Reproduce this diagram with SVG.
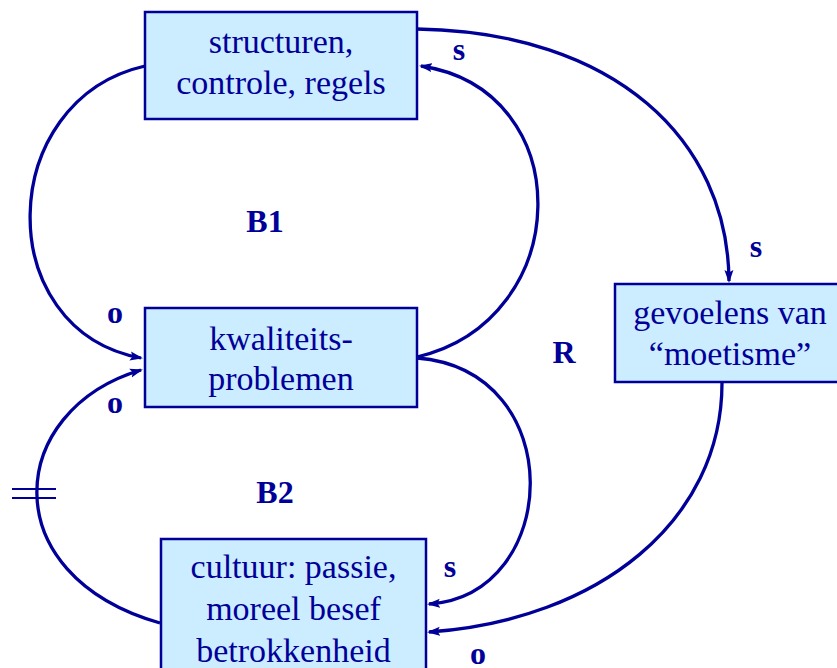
<svg xmlns="http://www.w3.org/2000/svg" width="837" height="668" viewBox="0 0 837 668">
<style>
.box{fill:#CCECFF;stroke:#000099;stroke-width:2.5}
.nt{font-family:"Liberation Serif","Times New Roman",serif;font-size:34px;fill:#000099;text-anchor:middle}
.lb{font-family:"Liberation Serif","Times New Roman",serif;font-size:32px;font-weight:bold;fill:#000099;text-anchor:middle}
.c{fill:none;stroke:#000099;stroke-width:3.3}
.d{fill:none;stroke:#000099;stroke-width:2}
</style>
<defs>
<marker id="ah" markerUnits="userSpaceOnUse" markerWidth="14" markerHeight="10" refX="11" refY="5" orient="auto">
<path d="M0,0.5 L13,5 L0,9.5 L2.5,5 Z" fill="#000099"/>
</marker>
</defs>
<rect width="837" height="668" fill="#ffffff"/>
<g id="connectors">
<path class="c" d="M145,66 C-5,100 -10,330 141,358" marker-end="url(#ah)"/>
<path class="c" d="M417,357 C575,320 580,90 421,66" marker-end="url(#ah)"/>
<path class="c" d="M417,29 C615,32 728,140 729,281" marker-end="url(#ah)"/>
<path class="c" d="M722,383 C722,520 600,620 429,632" marker-end="url(#ah)"/>
<path class="c" d="M417,358 C570,370 562,595 429,604" marker-end="url(#ah)"/>
<path class="c" d="M160,623 C-8,575 6,410 141,370" marker-end="url(#ah)"/>
<line class="d" x1="12" y1="489" x2="56" y2="489"/>
<line class="d" x1="12" y1="498" x2="56" y2="498"/>
</g>
<g id="structuren">
<rect class="box" x="145" y="12" width="272" height="107"/>
<text class="nt" x="281" y="53">structuren,</text>
<text class="nt" x="281" y="94">controle, regels</text>
</g>
<g id="kwaliteitsproblemen">
<rect class="box" x="145" y="308" width="272" height="99"/>
<text class="nt" x="281" y="350">kwaliteits-</text>
<text class="nt" x="281" y="390">problemen</text>
</g>
<g id="moetisme">
<rect class="box" x="615" y="284" width="232" height="98"/>
<text class="nt" x="730" y="324">gevoelens van</text>
<text class="nt" x="730" y="365">“moetisme”</text>
</g>
<g id="cultuur">
<rect class="box" x="161" y="539" width="265" height="140"/>
<text class="nt" x="293.5" y="578">cultuur: passie,</text>
<text class="nt" x="293.5" y="620">moreel besef</text>
<text class="nt" x="293.5" y="662">betrokkenheid</text>
</g>
<g id="labels">
<text class="lb" x="459" y="60">s</text>
<text class="lb" x="756" y="257">s</text>
<text class="lb" x="265" y="232">B1</text>
<text class="lb" x="564" y="363">R</text>
<text class="lb" x="115" y="323">o</text>
<text class="lb" x="115" y="413">o</text>
<text class="lb" x="275" y="503">B2</text>
<text class="lb" x="450" y="577">s</text>
<text class="lb" x="478" y="664">o</text>
</g>
</svg>
